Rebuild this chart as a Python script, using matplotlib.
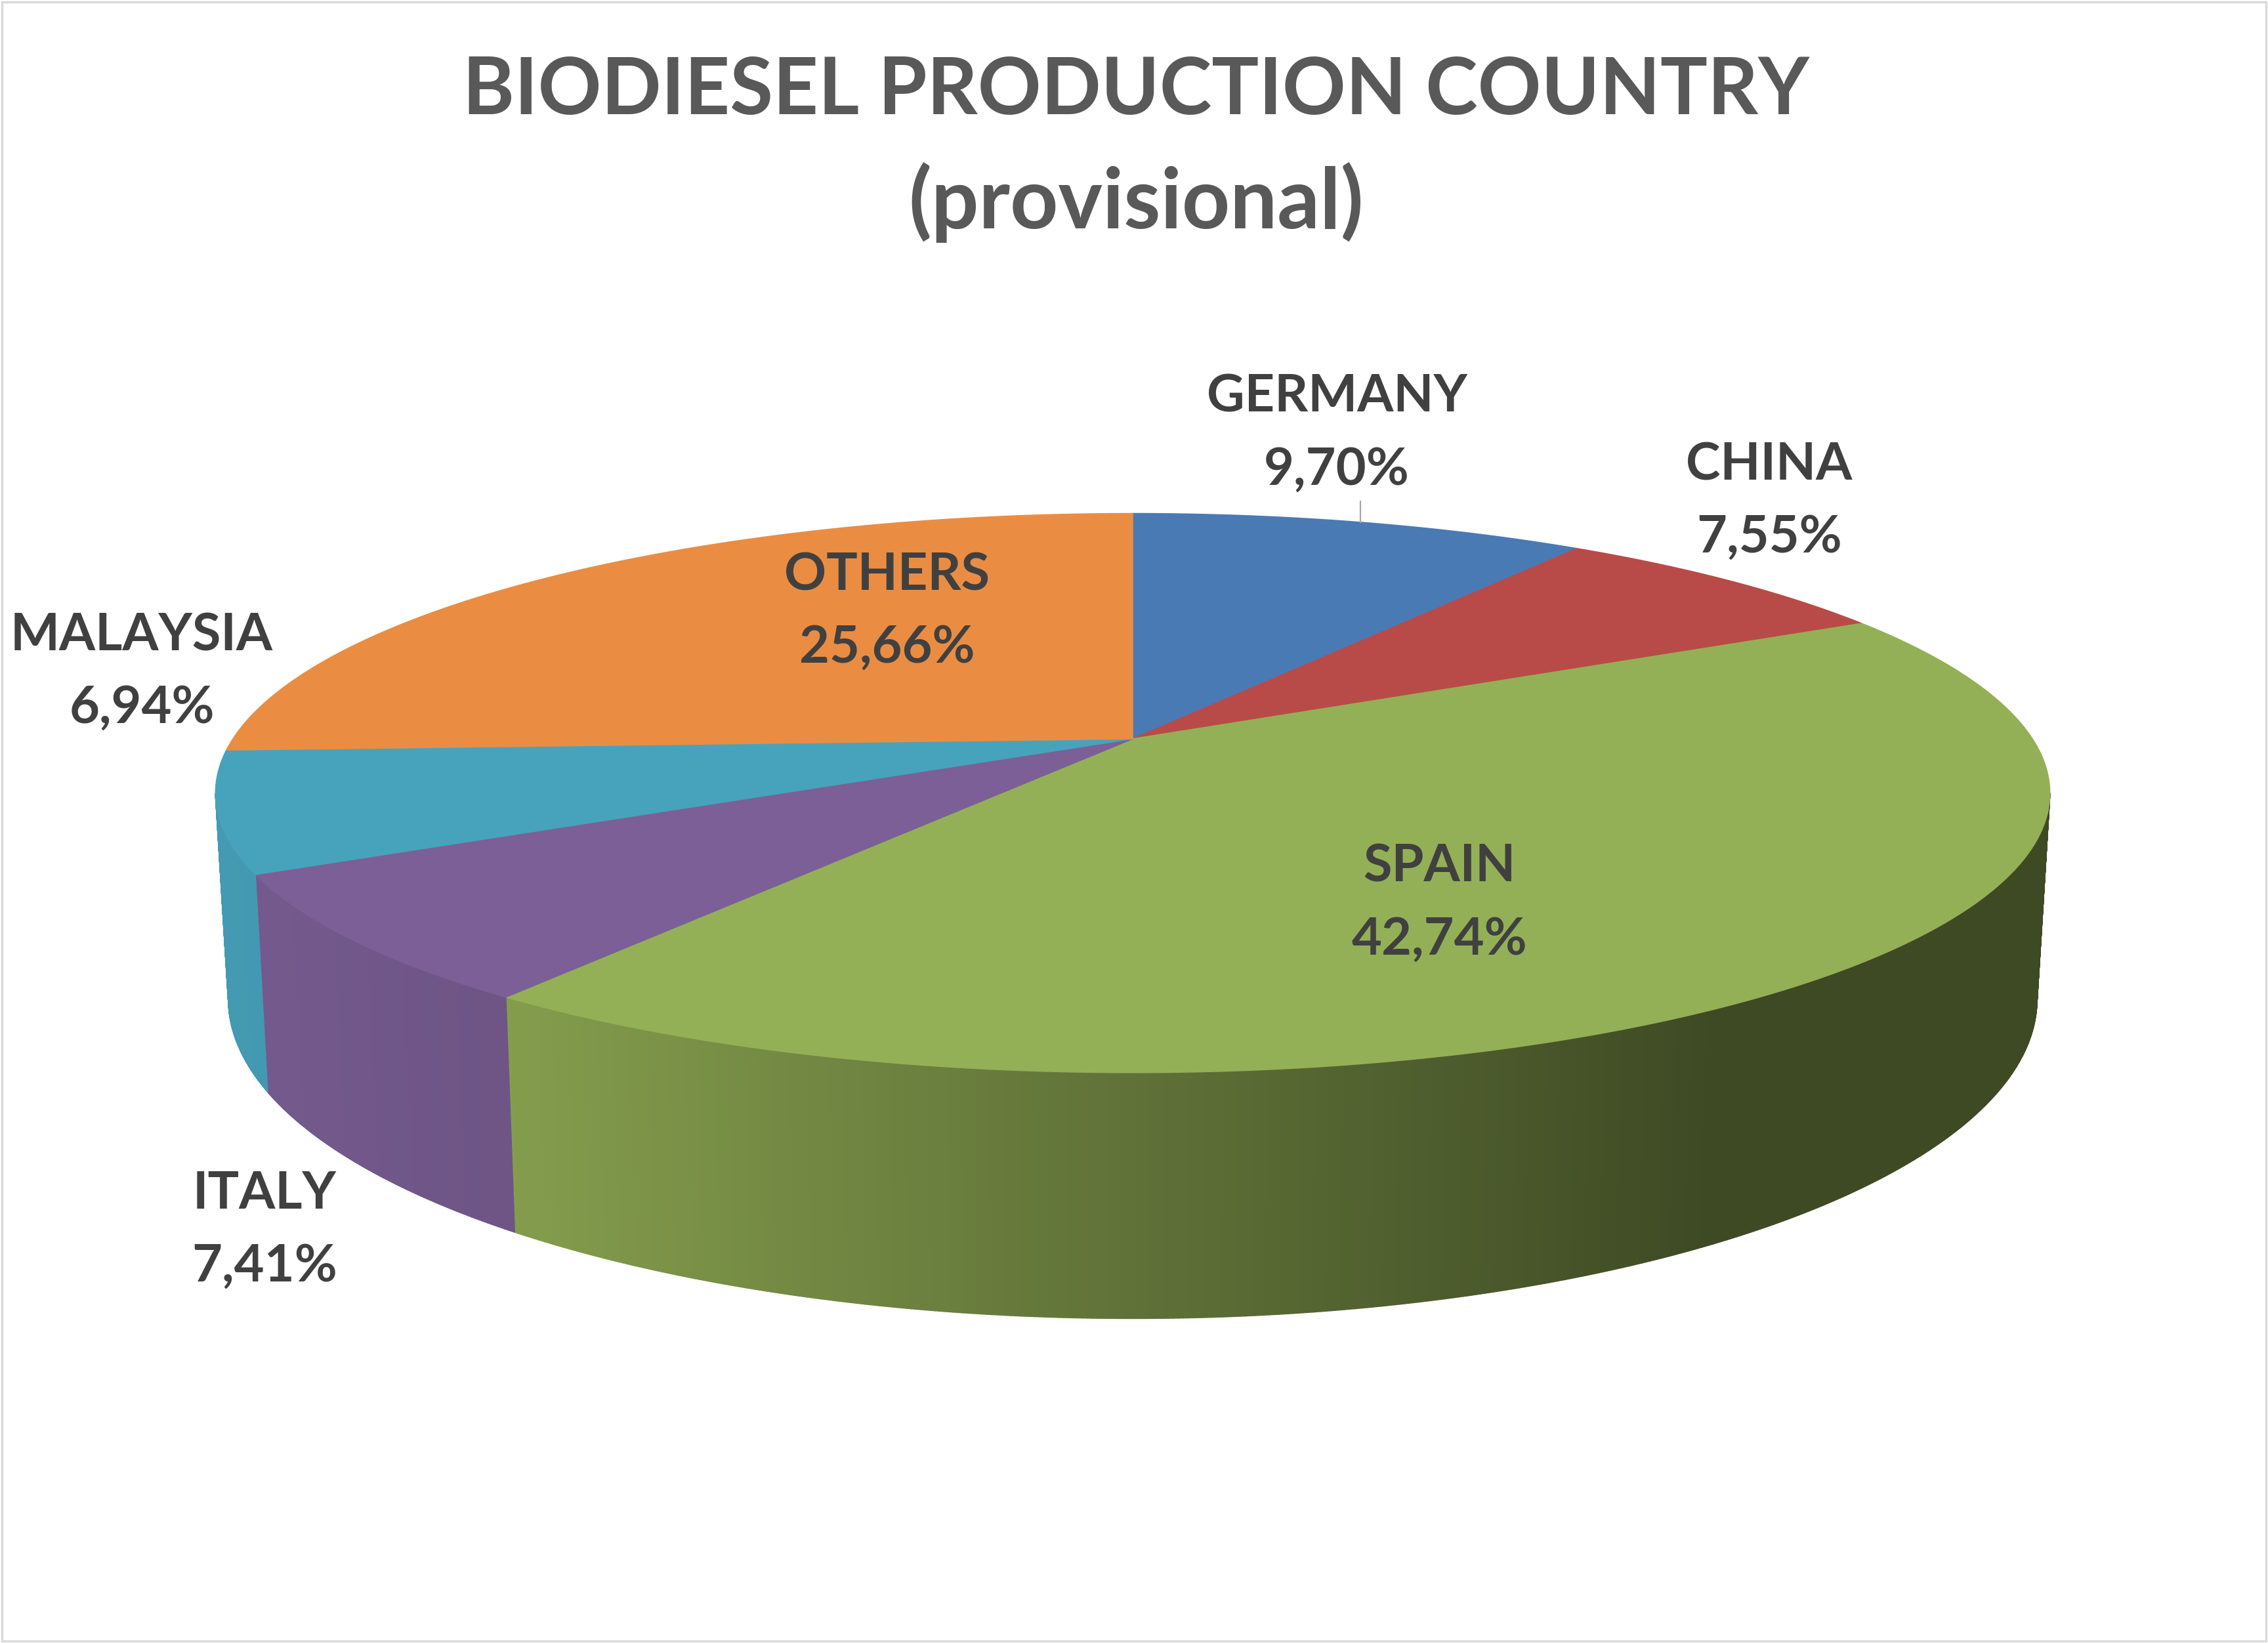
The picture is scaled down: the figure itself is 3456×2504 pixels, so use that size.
import numpy as np
import matplotlib.pyplot as plt
from matplotlib.collections import PolyCollection
from matplotlib.patches import Polygon, Rectangle
from matplotlib.colors import to_rgb

# data
countries = ['GERMANY', 'CHINA', 'SPAIN', 'ITALY', 'MALAYSIA', 'OTHERS']
shares = [9.70, 7.55, 42.74, 7.41, 6.94, 25.66]
colors = ['#4A7AB4', '#B84B48', '#94B056', '#7B5F96', '#47A3BC', '#EA8D43']

# layout (output pixels)
W, H = 3456, 2504
cx, cy = 1726, 1126          # pie apex
A, B, k = 1371, 410, 0.194   # half width, half height, perspective
depth = 302
shrink = 0.986
label_pos = [(2037, 628), (2696, 731), (2193, 1344), (403, 1842), (216, 991), (1352, 899)]
line_gap = 111
font = 'Lato'


def top(t):
    u, v = np.sin(t), np.cos(t)
    d = 1 + k * v
    return cx + A * u / d, cy - B * v / d


def bottom(t):
    x, y = top(t)
    return cx + (x - cx) * shrink, y + depth / (1 + k * np.cos(t))


def shade(x):
    return np.interp(x, [300, 772, 2614], [0.95, 0.89, 0.42])


fig = plt.figure(figsize=(W / 200, H / 200), dpi=200)
ax = fig.add_axes([0, 0, 1, 1])
ax.set_xlim(0, W)
ax.set_ylim(H, 0)
ax.axis('off')

bounds = np.radians(np.concatenate([[0], np.cumsum(shares)]) * 3.6)
t_r = np.arccos(-k)
t_l = 2 * np.pi - t_r

# side wall (front half)
quads, qcols = [], []
for i in range(len(shares)):
    a0, a1 = max(bounds[i], t_r), min(bounds[i + 1], t_l)
    if a1 <= a0:
        continue
    ts = np.linspace(a0, a1, max(int(np.degrees(a1 - a0) * 4), 2))
    base = np.array(to_rgb(colors[i]))
    for t0, t1 in zip(ts[:-1], ts[1:]):
        p0, p1 = top(t0), top(t1)
        q0, q1 = bottom(t0), bottom(t1)
        quads.append([p0, p1, q1, q0])
        qcols.append(np.clip(base * shade((p0[0] + p1[0]) / 2), 0, 1))
ax.add_collection(PolyCollection(quads, facecolors=qcols, edgecolors=qcols, linewidths=0.6))

# top faces
for i in range(len(shares)):
    ts = np.linspace(bounds[i], bounds[i + 1], 200)
    xs, ys = top(ts)
    pts = np.column_stack([np.r_[cx, xs], np.r_[cy, ys]])
    ax.add_patch(Polygon(pts, closed=True, facecolor=colors[i], edgecolor=colors[i], lw=0.6))

# labels
for name, val, (x, y) in zip(countries, shares, label_pos):
    txt = f'{val:.2f}'.replace('.', ',') + '%'
    ax.text(x, y, name, ha='center', va='baseline', fontsize=28.6,
            fontweight='bold', family=font, color='#404040')
    ax.text(x, y + line_gap, txt, ha='center', va='baseline', fontsize=28.6,
            fontweight='bold', family=font, color='#404040')

# leader line for Germany
gx, gy = top(np.mean(bounds[0:2]))
ax.plot([gx, gx], [gy, 764], color='#A6A6A6', lw=0.8)

# title
ax.text(1731, 174, 'BIODIESEL PRODUCTION COUNTRY', ha='center', va='baseline',
        fontsize=43.2, fontweight='bold', family=font, color='#595959')
ax.text(1731, 348, '(provisional)', ha='center', va='baseline',
        fontsize=46, fontweight='bold', family=font, color='#595959')

ax.add_patch(Rectangle((3, 3), W - 6, H - 6, fill=False, edgecolor='#D9D9D9', lw=1.2))

fig.savefig('out.png', dpi=200)
